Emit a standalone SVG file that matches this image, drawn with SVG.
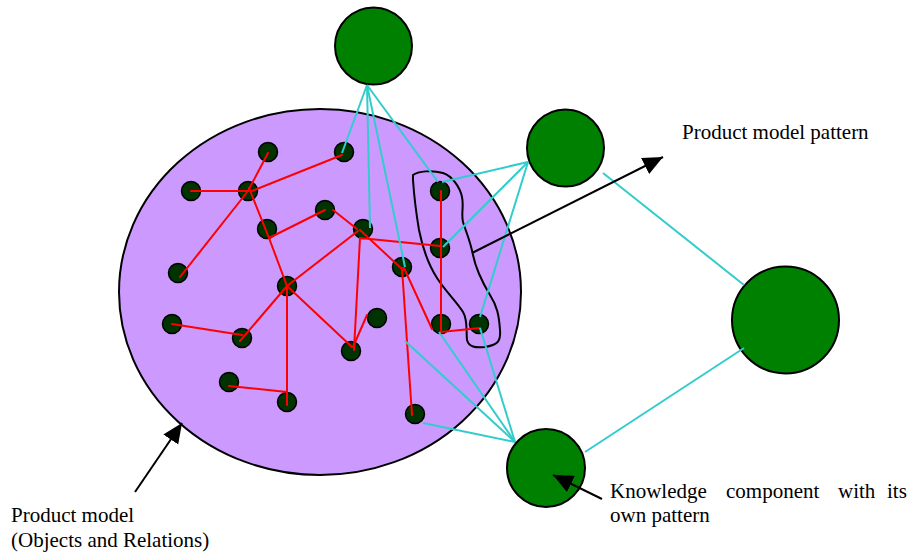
<svg xmlns="http://www.w3.org/2000/svg" width="910" height="556" viewBox="0 0 910 556">
  <style>
    .model { fill: #CC99FF; stroke: #000; stroke-width: 2; }
    .obj { fill: #003300; stroke: #000; stroke-width: 1.5; }
    .kc { fill: #008000; stroke: #000; stroke-width: 2; }
    .rel { stroke: #FF0000; stroke-width: 2; fill: none; stroke-linecap: round; }
    .link { stroke: #33CCCC; stroke-width: 2; fill: none; }
    .pointer { stroke: #000; stroke-width: 2; fill: none; }
    .outline { stroke: #000; stroke-width: 2; fill: none; stroke-linejoin: round; }
    .label { font-family: 'Times New Roman', 'Liberation Serif', Tinos, 'DejaVu Serif', serif; font-size: 21px; fill: #000; }
  </style>
  <defs>
    <marker id="tri" markerUnits="userSpaceOnUse" markerWidth="22" markerHeight="20" refX="20" refY="9" orient="auto">
      <path d="M0,0 L20,9 L0,18 Z" fill="#000"/>
    </marker>
  </defs>

  <!-- product model -->
  <g id="product-model">
    <ellipse class="model" cx="320" cy="292" rx="201" ry="183"/>
  </g>

  <!-- objects inside the product model -->
  <g id="objects">
    <circle class="obj" cx="268" cy="152" r="9.5"/>
    <circle class="obj" cx="344" cy="152" r="9.5"/>
    <circle class="obj" cx="191" cy="191" r="9.5"/>
    <circle class="obj" cx="248" cy="191" r="9.5"/>
    <circle class="obj" cx="325" cy="210" r="9.5"/>
    <circle class="obj" cx="267" cy="229" r="9.5"/>
    <circle class="obj" cx="363" cy="229" r="9.5"/>
    <circle class="obj" cx="440" cy="191" r="9.5"/>
    <circle class="obj" cx="440" cy="248" r="9.5"/>
    <circle class="obj" cx="402" cy="267" r="9.5"/>
    <circle class="obj" cx="178" cy="273" r="9.5"/>
    <circle class="obj" cx="287" cy="286" r="9.5"/>
    <circle class="obj" cx="172" cy="324" r="9.5"/>
    <circle class="obj" cx="242" cy="338" r="9.5"/>
    <circle class="obj" cx="377" cy="318" r="9.5"/>
    <circle class="obj" cx="351" cy="351" r="9.5"/>
    <circle class="obj" cx="441" cy="324" r="9.5"/>
    <circle class="obj" cx="479" cy="324" r="9.5"/>
    <circle class="obj" cx="229" cy="382" r="9.5"/>
    <circle class="obj" cx="287" cy="402" r="9.5"/>
    <circle class="obj" cx="415" cy="414" r="9.5"/>
  </g>

  <!-- knowledge components -->
  <g id="kc-top"><circle class="kc" cx="373.5" cy="46" r="38.5"/></g>
  <g id="kc-upper-right"><circle class="kc" cx="565.5" cy="148" r="38.5"/></g>
  <g id="kc-right"><circle class="kc" cx="785.5" cy="320" r="53.5"/></g>
  <g id="kc-bottom"><circle class="kc" cx="546" cy="468" r="39"/></g>

  <!-- pattern outline -->
  <g id="pattern">
    <path class="outline" d="M413,175 C418,171 432,170 443,173 C452,176 460,187 462,197 C464,206 461,214 463,222 C466,232 470,240 473,255 C476,270 484,285 490,295 C497,306 499,315 500,330 C501,342 497,345 485,347 C475,348 469,347 467,340 C466,332 468,320 463,312 C457,302 446,292 437,278 C428,264 423,250 419,230 C416,212 414,195 413,180 Z"/>
  </g>

  <!-- connectors -->
  <g id="connectors">
    <!-- relations between objects -->
    <line class="rel" x1="191" y1="191" x2="248" y2="191"/>
    <line class="rel" x1="248" y1="191" x2="268" y2="153"/>
    <line class="rel" x1="252" y1="191" x2="342" y2="155"/>
    <line class="rel" x1="248" y1="191" x2="180" y2="277"/>
    <polyline class="rel" points="249,188 269,238 287,286"/>
    <line class="rel" x1="269" y1="238" x2="325" y2="210"/>
    <line class="rel" x1="333" y1="210" x2="357" y2="229"/>
    <line class="rel" x1="358" y1="231" x2="287" y2="286"/>
    <line class="rel" x1="360" y1="238" x2="440" y2="246"/>
    <line class="rel" x1="360" y1="238" x2="354" y2="350"/>
    <line class="rel" x1="360" y1="230" x2="403" y2="270"/>
    <line class="rel" x1="287" y1="286" x2="352" y2="347"/>
    <line class="rel" x1="353" y1="347" x2="367" y2="315"/>
    <line class="rel" x1="287" y1="286" x2="240" y2="341"/>
    <line class="rel" x1="172" y1="324" x2="242" y2="335"/>
    <line class="rel" x1="287" y1="286" x2="287" y2="405"/>
    <line class="rel" x1="229" y1="386" x2="287" y2="392"/>
    <line class="rel" x1="402" y1="268" x2="412" y2="415"/>
    <line class="rel" x1="404" y1="268" x2="432" y2="329"/>
    <line class="rel" x1="441" y1="191" x2="441" y2="332"/>
    <line class="rel" x1="441" y1="332" x2="480" y2="328"/>

    <!-- links from knowledge components -->
    <line class="link" x1="367" y1="85" x2="342" y2="153"/>
    <line class="link" x1="367" y1="85" x2="370" y2="228"/>
    <line class="link" x1="367" y1="85" x2="405" y2="267"/>
    <line class="link" x1="367" y1="85" x2="438" y2="182"/>
    <line class="link" x1="528" y1="162" x2="442" y2="182"/>
    <line class="link" x1="528" y1="162" x2="443" y2="247"/>
    <line class="link" x1="528" y1="162" x2="480" y2="317"/>
    <line class="link" x1="603" y1="173" x2="744" y2="285"/>
    <line class="link" x1="585" y1="452" x2="744" y2="348"/>
    <line class="link" x1="515" y1="442" x2="423" y2="423"/>
    <line class="link" x1="515" y1="442" x2="439" y2="332"/>
    <line class="link" x1="515" y1="442" x2="480" y2="328"/>
    <line class="link" x1="515" y1="442" x2="405" y2="341"/>

    <!-- annotation pointers -->
    <line class="pointer" x1="472" y1="253" x2="663" y2="157" marker-end="url(#tri)"/>
    <line class="pointer" x1="135" y1="492" x2="182" y2="423" marker-end="url(#tri)"/>
    <line class="pointer" x1="602" y1="499" x2="553" y2="475" marker-end="url(#tri)"/>
  </g>

  <!-- labels -->
  <g id="labels">
    <text class="label" x="682" y="139">Product model pattern</text>
    <text class="label" x="610" y="498">Knowledge</text>
    <text class="label" x="726" y="498">component</text>
    <text class="label" x="838" y="498">with</text>
    <text class="label" x="887" y="498">its</text>
    <text class="label" x="610" y="522">own pattern</text>
    <text class="label" x="11" y="522">Product model</text>
    <text class="label" x="11" y="547">(Objects and Relations)</text>
  </g>
</svg>
